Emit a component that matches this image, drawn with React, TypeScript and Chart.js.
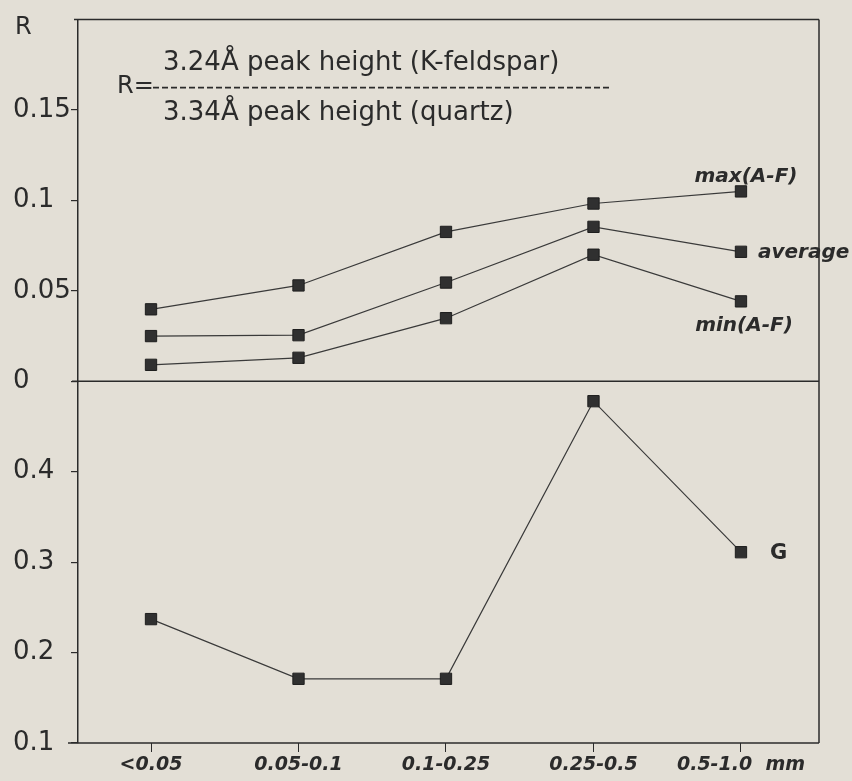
import React, { useEffect, useRef } from 'react';
import { Chart, registerables } from 'chart.js';

Chart.register(...registerables);

// ---- data ----
const sizeClasses = ['<0.05', '0.05-0.1', '0.1-0.25', '0.25-0.5', '0.5-1.0  mm'];
const maxAF = [0.0398, 0.053, 0.0826, 0.0983, 0.105];
const averageR = [0.025, 0.0255, 0.0546, 0.0854, 0.0716];
const minAF = [0.0091, 0.013, 0.0349, 0.07, 0.0442];
const gValues = [0.237, 0.171, 0.171, 0.478, 0.311];
const topTicks = [0, 0.05, 0.1, 0.15];
const bottomTicks = [0.1, 0.2, 0.3, 0.4];
const seriesNames = ['max(A-F)', 'average', 'min(A-F)', 'G'];
const formulaTop = '3.24Å peak height (K-feldspar)';
const formulaBottom = '3.34Å peak height (quartz)';
const axisLetter = 'R';

const INK = '#2b2b2b';
const PAPER = '#e3dfd6';

const toXY = (arr: number[]) => arr.map((v, i) => ({ x: i, y: v }));

const lineStyle = {
  borderColor: '#3a3a3a',
  borderWidth: 1.2,
  pointStyle: 'rect' as const,
  pointRadius: 8,
  pointBackgroundColor: '#303030',
  pointBorderColor: '#1e1e1e',
  pointBorderWidth: 1,
  tension: 0,
  fill: false,
};

const framePlugin = {
  id: 'frameAndText',
  afterDraw(chart: any) {
    const ctx = chart.ctx as CanvasRenderingContext2D;
    const ca = chart.chartArea;
    const yT = chart.scales.yTop;
    const line = (x1: number, y1: number, x2: number, y2: number) => {
      ctx.beginPath();
      ctx.moveTo(x1, y1);
      ctx.lineTo(x2, y2);
      ctx.stroke();
    };
    ctx.save();
    ctx.strokeStyle = INK;
    ctx.lineWidth = 1.5;
    line(ca.left - 4, ca.top, ca.right, ca.top);
    line(ca.right, ca.top, ca.right, ca.bottom);
    const yd = yT.getPixelForValue(0);
    line(ca.left - 6, yd, ca.right, yd);
    line(ca.left - 10, ca.bottom, ca.right, ca.bottom);

    // axis letter
    ctx.fillStyle = INK;
    ctx.font = '24px "DejaVu Sans"';
    ctx.textAlign = 'left';
    ctx.textBaseline = 'middle';
    ctx.fillText(axisLetter, 15, ca.top + 8);

    // formula
    const fx = ca.left + 85;
    ctx.font = '26px "DejaVu Sans"';
    ctx.textBaseline = 'alphabetic';
    ctx.fillText(formulaTop, fx, ca.top + 50);
    ctx.fillText(formulaBottom, fx, ca.top + 100);
    ctx.font = '24px "DejaVu Sans"';
    ctx.textBaseline = 'middle';
    ctx.fillText('R=', ca.left + 39, ca.top + 67);
    ctx.setLineDash([6, 3]);
    ctx.lineWidth = 1.6;
    line(ca.left + 75, ca.top + 68, ca.left + 534, ca.top + 68);
    ctx.setLineDash([]);

    // series labels near last points
    const last = (i: number) => {
      const d = chart.getDatasetMeta(i).data;
      return d[d.length - 1];
    };
    ctx.font = 'italic bold 20px "DejaVu Sans"';
    let p = last(0);
    ctx.textAlign = 'center';
    ctx.textBaseline = 'alphabetic';
    ctx.fillText(seriesNames[0], p.x + 5, p.y - 9);
    p = last(1);
    ctx.textAlign = 'left';
    ctx.textBaseline = 'middle';
    ctx.fillText(seriesNames[1], p.x + 17, p.y + 1);
    p = last(2);
    ctx.textAlign = 'center';
    ctx.textBaseline = 'alphabetic';
    ctx.fillText(seriesNames[2], p.x + 3, p.y + 30);
    p = last(3);
    ctx.font = 'bold 21px "DejaVu Sans"';
    ctx.textAlign = 'left';
    ctx.textBaseline = 'middle';
    ctx.fillText(seriesNames[3], p.x + 29, p.y + 1);
    ctx.restore();
  },
};

export default function App() {
  const ref = useRef<HTMLCanvasElement>(null);
  useEffect(() => {
    if (!ref.current) return;
    const yCommon = {
      type: 'linear' as const,
      position: 'left' as const,
      stack: 'r',
      stackWeight: 1,
      ticks: {
        callback: (v: any) => String(v),
        crossAlign: 'far' as const,
        font: { family: 'DejaVu Sans', size: 26 },
        color: INK,
        padding: 4,
      },
      grid: { drawOnChartArea: false, tickLength: 7, color: INK, lineWidth: 1.2 },
      border: { display: true, color: INK, width: 1.5 },
      afterFit: (s: any) => {
        s.width = 65;
      },
    };
    const chart = new Chart(ref.current, {
      type: 'line',
      data: {
        datasets: [
          { label: seriesNames[0], data: toXY(maxAF), yAxisID: 'yTop', ...lineStyle },
          { label: seriesNames[1], data: toXY(averageR), yAxisID: 'yTop', ...lineStyle },
          { label: seriesNames[2], data: toXY(minAF), yAxisID: 'yTop', ...lineStyle },
          { label: seriesNames[3], data: toXY(gValues), yAxisID: 'yBot', ...lineStyle },
        ],
      },
      options: {
        animation: false,
        responsive: false,
        maintainAspectRatio: false,
        layout: { padding: { left: 13, right: 33, top: 14, bottom: 0 } },
        plugins: { legend: { display: false }, tooltip: { enabled: false } },
        scales: {
          x: {
            type: 'linear',
            min: -0.495,
            max: 4.529,
            afterBuildTicks: (s: any) => {
              s.ticks = sizeClasses.map((_, i) => ({ value: i }));
            },
            ticks: {
              callback: (v: any) => sizeClasses[v] ?? '',
              font: { family: 'DejaVu Sans', size: 19, style: 'italic', weight: 'bold' },
              color: INK,
              padding: 2,
              maxRotation: 0,
              autoSkip: false,
            },
            grid: { drawOnChartArea: false, tickLength: 9, color: INK, lineWidth: 1 },
            border: { display: false },
            afterFit: (s: any) => {
              s.height = 38;
            },
          },
          yTop: {
            ...yCommon,
            weight: 2,
            min: 0,
            max: 0.2,
            afterBuildTicks: (s: any) => {
              s.ticks = topTicks.map((v) => ({ value: v }));
            },
          },
          yBot: {
            ...yCommon,
            weight: 1,
            min: 0.1,
            max: 0.5,
            afterBuildTicks: (s: any) => {
              s.ticks = bottomTicks.map((v) => ({ value: v }));
            },
          },
        } as any,
      },
      plugins: [framePlugin],
    });
    return () => chart.destroy();
  }, []);
  return (
    <div style={{ position: 'fixed', left: 0, top: 0, width: 852, height: 781, background: PAPER }}>
      <canvas ref={ref} width={852} height={781} style={{ display: 'block' }} />
    </div>
  );
}
